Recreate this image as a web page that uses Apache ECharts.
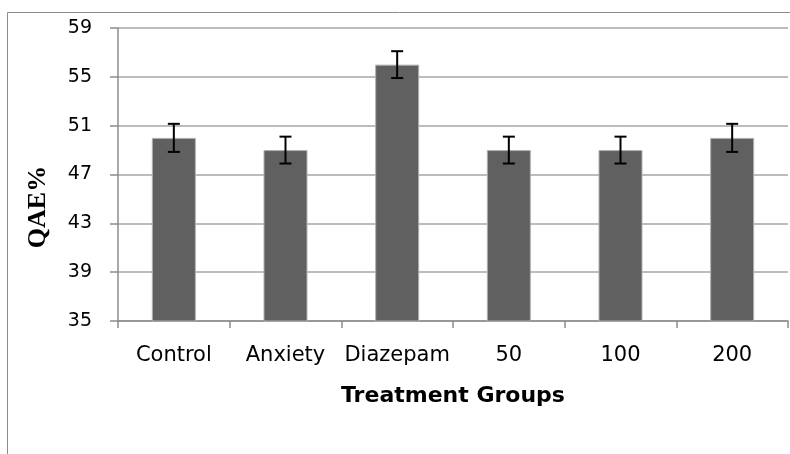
<!DOCTYPE html>
<html>
<head>
<meta charset="utf-8">
<script src="https://cdn.jsdelivr.net/npm/echarts@6/dist/echarts.min.js"></script>
<style>
html, body { margin: 0; padding: 0; background: #fff; }
#main { width: 790px; height: 454px; }
</style>
</head>
<body>
<div id="main"></div>
<script>
var groups = ["Control", "Anxiety", "Diazepam", "50", "100", "200"];
var qaeMean = [50, 49, 56, 49, 49, 50];
var qaeErr = [1.15, 1.1, 1.1, 1.1, 1.1, 1.15];

var errData = [];
for (var i = 0; i < groups.length; i++) {
	errData.push([i, qaeMean[i] - qaeErr[i], qaeMean[i] + qaeErr[i]]);
}

var chart = echarts.init(document.getElementById('main'));

chart.setOption({
	animation: false,
	grid: { left: 118, right: 2, top: 28, bottom: 133 },
	graphic: [
		{
			type: 'rect',
			shape: { x: 7.5, y: 12.5, width: 900, height: 600 },
			style: { fill: 'none', stroke: '#8c8c8c', lineWidth: 1 },
			silent: true
		},
		{
			type: 'text',
			x: 38, y: 207,
			rotation: Math.PI / 2,
			style: {
				text: 'QAE%',
				font: 'bold 26px "Liberation Serif", "DejaVu Serif", serif',
				fill: '#000',
				align: 'center',
				verticalAlign: 'middle'
			}
		}
	],
	xAxis: {
		type: 'category',
		data: groups,
		name: 'Treatment Groups',
		nameLocation: 'middle',
		nameGap: 64,
		nameTextStyle: { fontFamily: 'DejaVu Sans', fontWeight: 'bold', fontSize: 22, color: '#000' },
		axisLine: { lineStyle: { color: '#8c8c8c', width: 1.5 } },
		axisTick: { show: true, interval: 0, length: 7, lineStyle: { color: '#8c8c8c', width: 1.5 } },
		axisLabel: { interval: 0, fontFamily: 'DejaVu Sans', fontSize: 21, color: '#000', margin: 24 }
	},
	yAxis: {
		type: 'value',
		min: 35,
		max: 59,
		interval: 4,
		axisLine: { show: true, lineStyle: { color: '#8c8c8c', width: 1.5 } },
		axisTick: { show: true, length: 8, lineStyle: { color: '#8c8c8c', width: 1.5 } },
		splitLine: { lineStyle: { color: '#a6a6a6', width: 1.5 } },
		axisLabel: { fontFamily: 'DejaVu Sans', fontSize: 19, color: '#000', margin: 26 }
	},
	series: [
		{
			type: 'bar',
			data: qaeMean,
			barWidth: 44,
			itemStyle: { color: '#606060', borderColor: '#b0b0b0', borderWidth: 1 },
			z: 2
		},
		{
			type: 'custom',
			data: errData,
			z: 5,
			renderItem: function (params, api) {
				var x = api.value(0);
				var lo = api.coord([x, api.value(1)]);
				var hi = api.coord([x, api.value(2)]);
				var cap = 6;
				var st = { stroke: '#000', lineWidth: 2 };
				return {
					type: 'group',
					children: [
						{ type: 'line', shape: { x1: hi[0], y1: hi[1], x2: lo[0], y2: lo[1] }, style: st },
						{ type: 'line', shape: { x1: hi[0] - cap, y1: hi[1], x2: hi[0] + cap, y2: hi[1] }, style: st },
						{ type: 'line', shape: { x1: lo[0] - cap, y1: lo[1], x2: lo[0] + cap, y2: lo[1] }, style: st }
					]
				};
			}
		}
	]
});
</script>
</body>
</html>
